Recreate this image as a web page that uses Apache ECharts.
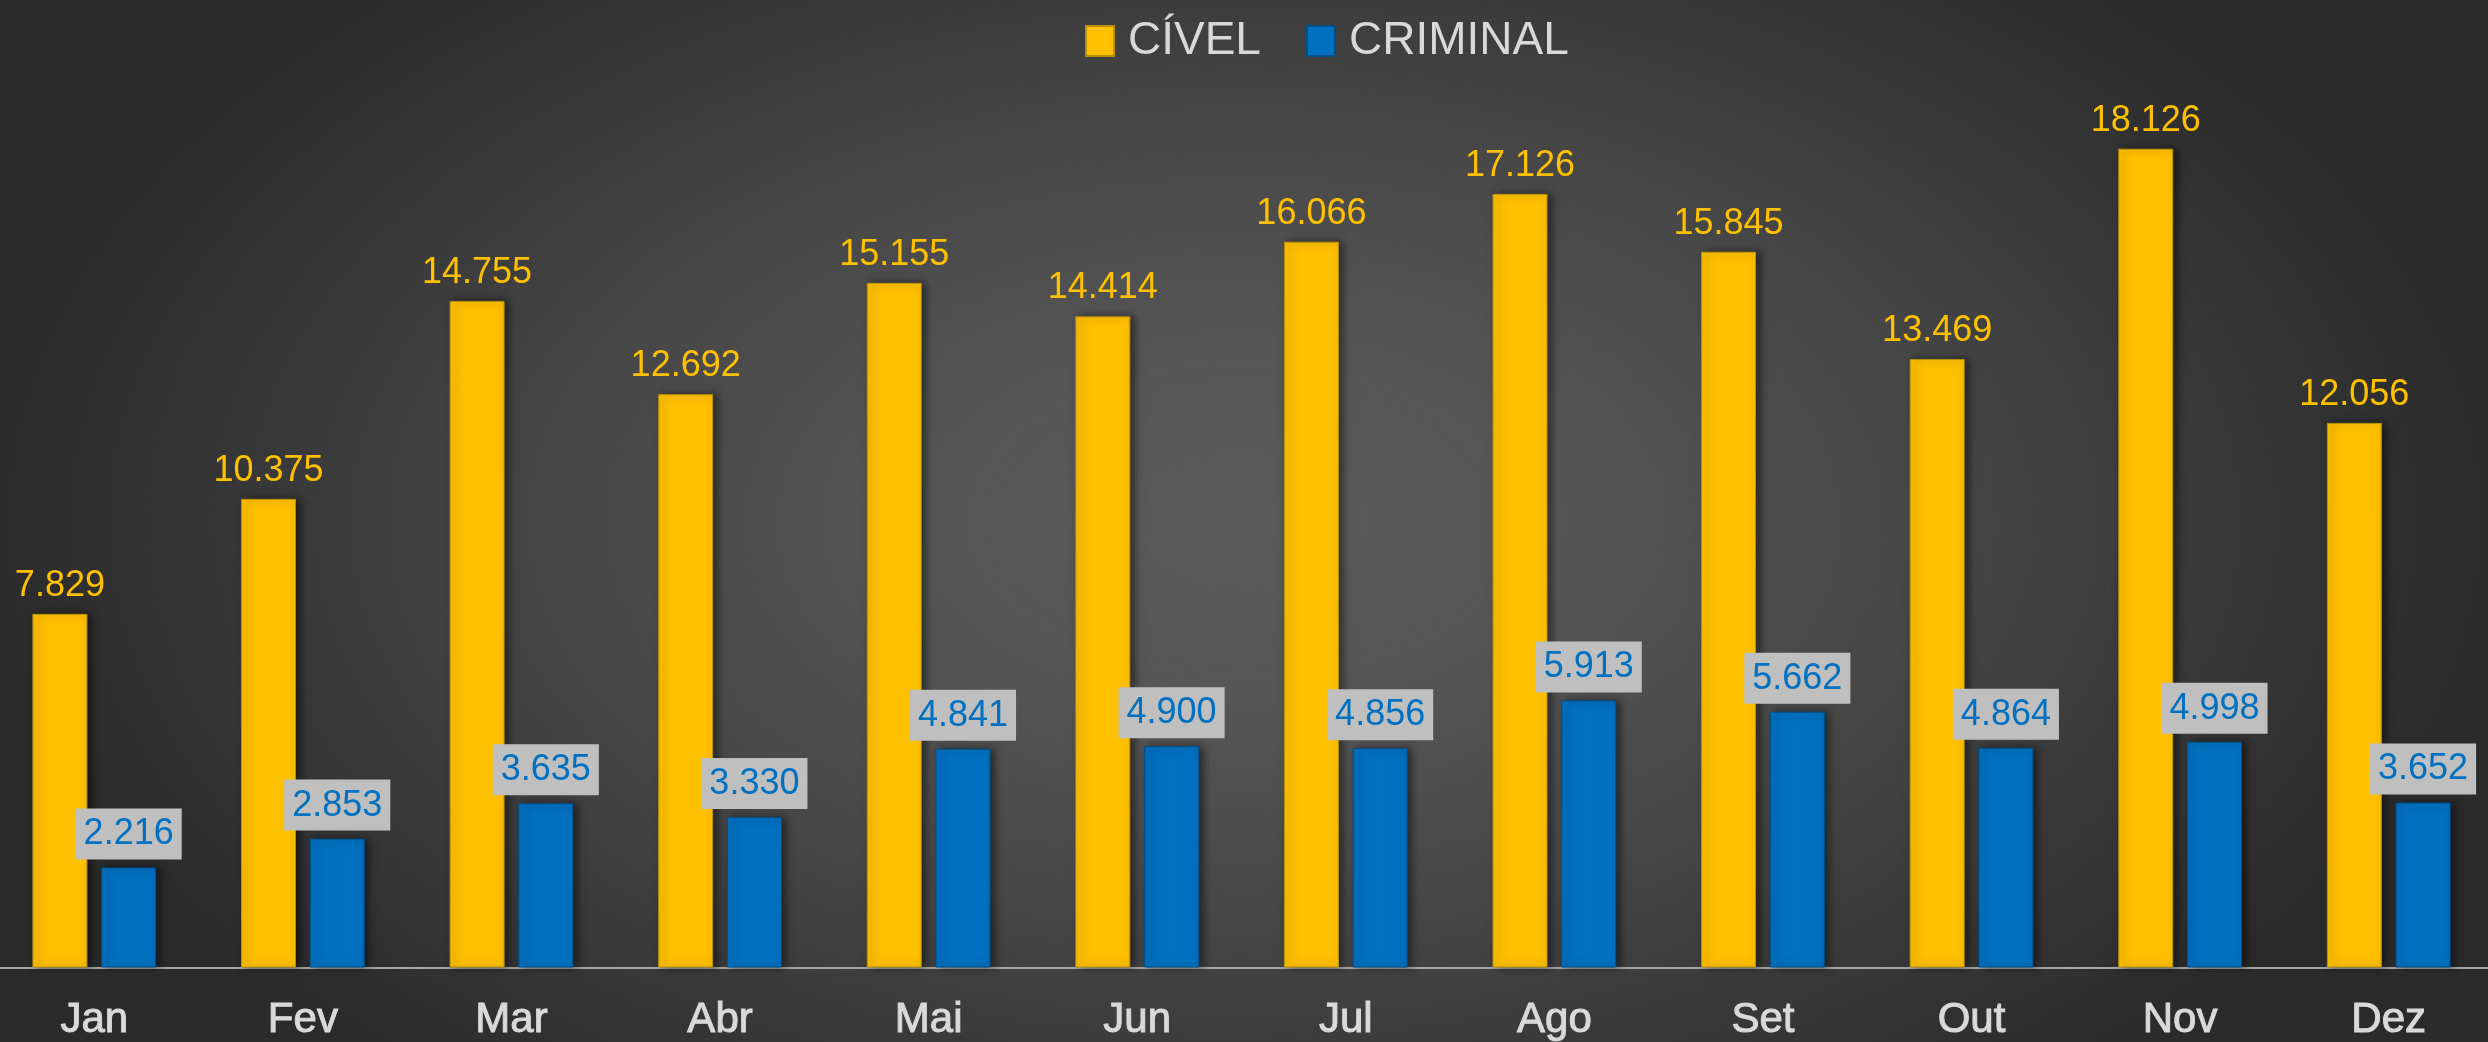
<!DOCTYPE html>
<html>
<head>
<meta charset="utf-8">
<script src="https://cdn.jsdelivr.net/npm/echarts@6/dist/echarts.min.js"></script>
<style>
  html, body { margin: 0; padding: 0; overflow: hidden; }
  body {
    width: 2488px;
    height: 1042px;
    position: relative;
    background: radial-gradient(ellipse 1244px 720px at 50% 50%, #5a5a5a 0%, #565656 25%, #474747 55%, #2b2b2b 100%);
  }
  /* a área de plotagem do original passa um pouco das bordas */
  #chart {
    position: absolute;
    left: -10px;
    top: 0;
    width: 2503px;
    height: 1042px;
  }
</style>
</head>
<body>
<div id="chart"></div>
<script>
// dados mensais
const meses = ['Jan', 'Fev', 'Mar', 'Abr', 'Mai', 'Jun', 'Jul', 'Ago', 'Set', 'Out', 'Nov', 'Dez'];
const civel = [7829, 10375, 14755, 12692, 15155, 14414, 16066, 17126, 15845, 13469, 18126, 12056];
const criminal = [2216, 2853, 3635, 3330, 4841, 4900, 4856, 5913, 5662, 4864, 4998, 3652];

// 7829 -> "7.829"
function fmt(v) {
  return String(v).replace(/\B(?=(\d{3})+(?!\d))/g, '.');
}

const fonte = '"Liberation Sans", Arial, sans-serif';
const chart = echarts.init(document.getElementById('chart'));

const option = {
  backgroundColor: 'transparent',
  legend: {
    data: ['CÍVEL', 'CRIMINAL'],
    top: 13,
    left: 1090,
    itemWidth: 28,
    itemHeight: 30,
    itemGap: 45,
    icon: 'rect',
    textStyle: {
      color: '#d9d9d9',
      fontSize: 46,
      fontFamily: fonte,
      padding: [0, 0, 0, 9]
    }
  },
  grid: {
    top: 64,
    bottom: 74,
    left: 0,
    right: 0
  },
  xAxis: {
    type: 'category',
    data: meses,
    axisTick: { show: false },
    axisLine: { lineStyle: { color: '#a6a6a6', width: 2 } },
    axisLabel: {
      color: '#d9d9d9',
      fontSize: 42,
      fontFamily: fonte,
      textBorderColor: '#d9d9d9',
      textBorderWidth: 1,
      margin: 32
    }
  },
  yAxis: {
    type: 'value',
    min: 0,
    max: 20000,
    show: false,
    splitLine: { show: false }
  },
  series: [
    {
      name: 'CÍVEL',
      type: 'bar',
      data: civel,
      barWidth: 55,
      barGap: '25%',
      itemStyle: {
        color: '#ffc000',
        borderColor: '#b8900a',
        borderWidth: 1,
        shadowColor: 'rgba(0,0,0,0.5)',
        shadowBlur: 8,
        shadowOffsetX: 4
      },
      label: {
        show: true,
        position: 'top',
        distance: 10,
        color: '#ffc000',
        fontSize: 36,
        fontFamily: fonte,
        formatter: p => fmt(p.value)
      }
    },
    {
      name: 'CRIMINAL',
      type: 'bar',
      data: criminal,
      barWidth: 55,
      itemStyle: {
        color: '#0070c0',
        borderColor: '#00508a',
        borderWidth: 1,
        shadowColor: 'rgba(0,0,0,0.5)',
        shadowBlur: 8,
        shadowOffsetX: 4
      },
      label: {
        show: true,
        position: 'top',
        distance: 8,
        color: '#0070c0',
        fontSize: 36,
        fontFamily: fonte,
        backgroundColor: '#bfbfbf',
        padding: [8, 8, 7, 8],
        formatter: p => fmt(p.value)
      }
    }
  ]
};

chart.setOption(option);
</script>
</body>
</html>
